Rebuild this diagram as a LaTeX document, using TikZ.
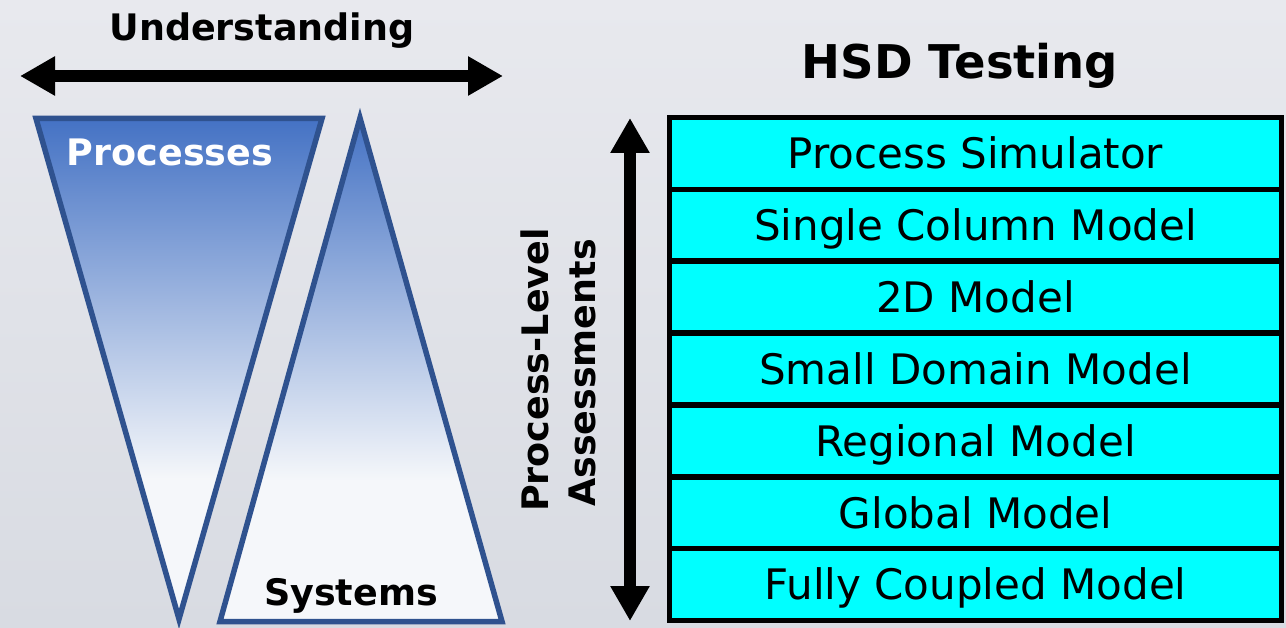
\documentclass[tikz,border=0pt]{standalone}
\usepackage{fontspec}
\setmainfont{DejaVu Sans}
\usetikzlibrary{arrows.meta}
\definecolor{bgtop}{RGB}{232,233,238}
\definecolor{bgbot}{RGB}{216,219,226}
\definecolor{triblue}{RGB}{68,114,196}
\definecolor{triwhite}{RGB}{245,247,250}
\definecolor{triedge}{RGB}{47,82,143}
\definecolor{boxcyan}{RGB}{0,255,255}
\pgfdeclareverticalshading{trishade}{100bp}{color(0bp)=(triwhite); color(39bp)=(triwhite); color(75bp)=(triblue); color(100bp)=(triblue)}
\tikzset{
  bigarrowboth/.style={line width=12pt, {Triangle[length=35pt,width=37pt]}-{Triangle[length=35pt,width=37pt]}},
  tri/.style={draw=triedge, line width=5.5pt, line join=miter, shading=trishade},
  modelbox/.style={draw=black, line width=5.5pt, fill=boxcyan, minimum width=612pt, minimum height=71.86pt,
     inner sep=0pt, text height=30.6pt, text depth=0pt, font=\fontsize{42}{50}\selectfont},
  boldlabel/.style={inner sep=0pt, text height=26.6pt, text depth=0pt, font=\fontsize{36.5}{43}\selectfont\bfseries},
}
\begin{document}
\begin{tikzpicture}[x=1pt,y=-1pt]
\useasboundingbox (0,0) rectangle (1286,628);
\shade[top color=bgtop, bottom color=bgbot] (0,0) rectangle (1286,628);

% Understanding arrow
\node[boldlabel] (und) at (262,27.5) {Understanding};
\coordinate (hl) at (20,76);
\coordinate (hr) at (503,76);
\draw[bigarrowboth] (hl) -- (hr);

% triangles
\path[tri] (36,118.5) -- (322,118.5) -- (179,619) -- cycle;
\path[tri] (360,118) -- (502,621.5) -- (220,621.5) -- cycle;
\node[boldlabel, text=white] (proc) at (170,152) {Processes};
\node[boldlabel] (sys) at (351,592) {Systems};

% vertical arrow and label
\coordinate (vt) at (630,118);
\coordinate (vb) at (630,621);
\draw[bigarrowboth] (vt) -- (vb);
\node[boldlabel, rotate=90] (pl1) at (535,370) {Process-Level};
\node[boldlabel, rotate=90] (pl2) at (582,373) {Assessments};

% HSD Testing
\node[inner sep=0pt, text height=34pt, text depth=0pt, font=\fontsize{46.5}{55}\selectfont\bfseries] (hsd) at (960,62) {HSD Testing};

% model boxes
\node[modelbox] (m1) at (975.5,153.43) {Process Simulator};
\node[modelbox] (m2) at (975.5,225.29) {Single Column Model};
\node[modelbox] (m3) at (975.5,297.15) {2D Model};
\node[modelbox] (m4) at (975.5,369.01) {Small Domain Model};
\node[modelbox] (m5) at (975.5,440.87) {Regional Model};
\node[modelbox] (m6) at (975.5,512.73) {Global Model};
\node[modelbox] (m7) at (975.5,584.59) {Fully Coupled Model};
\end{tikzpicture}
\end{document}
